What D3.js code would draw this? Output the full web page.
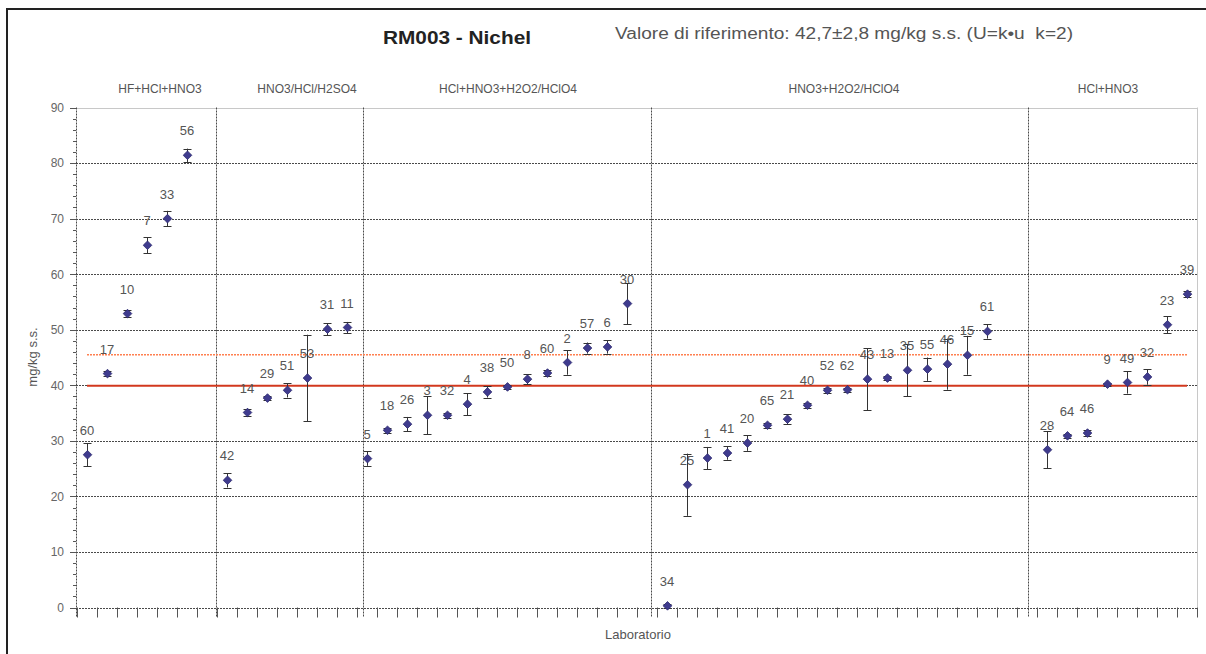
<!DOCTYPE html>
<html lang="it">
<head>
    <meta charset="UTF-8">
    <title>RM003 - Nichel</title>
    <script src="https://d3js.org/d3.v7.min.js"></script>
    <style>
        body {
            margin: 0;
            background: #fff;
            font-family: "Liberation Sans", Arial, sans-serif;
        }
        svg text {
            font-family: "Liberation Sans", Arial, sans-serif;
        }
    </style>
</head>
<body>
    <svg id="chart"></svg>

    <script>
        // laboratory codes, one per category slot ("" = empty slot)
        const labs = [
            "60", "17", "10", "7", "33", "56", "",
            "42", "14", "29", "51", "53", "31", "11",
            "5", "18", "26", "3", "32", "4", "38", "50", "8", "60", "2", "57", "6", "30", "",
            "34", "25", "1", "41", "20", "65", "21", "40", "52", "62", "43", "13", "35", "55", "46", "15", "61", "", "",
            "28", "64", "46", "9", "49", "32", "23", "39"
        ];

        // measured Ni (mg/kg s.s.)
        const values = [
            27.5, 42.1, 52.9, 65.2, 70.0, 81.4, null,
            22.9, 35.1, 37.7, 39.1, 41.3, 50.1, 50.4,
            26.8, 31.9, 33.0, 34.6, 34.6, 36.6, 38.8, 39.7, 41.1, 42.2, 44.1, 46.7, 46.9, 54.7, null,
            0.3, 22.1, 26.9, 27.8, 29.6, 32.8, 33.9, 36.4, 39.1, 39.2, 41.1, 41.3, 42.7, 42.9, 43.8, 45.4, 49.7, null, null,
            28.4, 30.9, 31.4, 40.2, 40.5, 41.5, 50.9, 56.4
        ];

        // expanded uncertainty (±)
        const errors = [
            2.1, 0.4, 0.6, 1.4, 1.4, 1.2, null,
            1.3, 0.7, 0.4, 1.3, 7.8, 1.1, 1.0,
            1.3, 0.5, 1.3, 3.4, 0.4, 2.0, 1.0, 0.4, 0.9, 0.6, 2.2, 1.0, 1.2, 3.7, null,
            0.3, 5.6, 2.0, 1.2, 1.4, 0.4, 0.9, 0.4, 0.4, 0.4, 5.6, 0.4, 4.7, 2.1, 4.6, 3.5, 1.3, null, null,
            3.3, 0.4, 0.5, 0.3, 2.0, 1.4, 1.5, 0.5
        ];

        // digestion methods, where they split on the category axis and where their names sit
        const groupNames = ["HF+HCl+HNO3", "HNO3/HCl/H2SO4", "HCl+HNO3+H2O2/HClO4", "HNO3+H2O2/HClO4", "HCl+HNO3"];
        const groupBreaks = [6.45, 13.8, 28.2, 47.05];
        const groupLabelAt = [3.65, 11, 21.05, 37.85, 51.05];

        // limits of the reference value 42,7 ± 2,8
        const refUpper = 45.5;
        const refLower = 39.9;

        const yTicks = [0, 10, 20, 30, 40, 50, 60, 70, 80, 90];

        const width = 1206, height = 654;
        const plot = { left: 77, right: 1197, top: 107.5, bottom: 607.5 };

        const svg = d3.select("#chart")
                      .attr("width", width)
                      .attr("height", height);

        svg.append("rect")
           .attr("width", width).attr("height", height)
           .attr("fill", "#fff");

        // outer frame
        svg.append("rect")
           .attr("x", 7).attr("y", 9)
           .attr("width", 1300).attr("height", 700)
           .attr("fill", "none")
           .attr("stroke", "#222")
           .attr("stroke-width", 2);

        const x = d3.scaleLinear()
                    .domain([-0.5, labs.length - 0.5])
                    .range([plot.left, plot.right]);

        const y = d3.scaleLinear()
                    .domain([0, 90])
                    .range([plot.bottom, plot.top]);

        const grid = svg.append("g");

        // horizontal grid
        grid.selectAll(".hgrid")
            .data(yTicks)
            .enter()
            .append("line")
            .attr("x1", plot.left - 1)
            .attr("x2", plot.right)
            .attr("y1", d => Math.round(y(d)) + 0.5)
            .attr("y2", d => Math.round(y(d)) + 0.5)
            .attr("stroke", d => d === 90 ? "#c8c8c8" : "#4a4a4a")
            .attr("stroke-dasharray", d => d === 90 ? null : "2,1");

        // right edge
        grid.append("line")
            .attr("x1", plot.right + 0.5).attr("x2", plot.right + 0.5)
            .attr("y1", plot.top).attr("y2", plot.bottom)
            .attr("stroke", "#c8c8c8");

        // left axis line
        grid.append("line")
            .attr("x1", plot.left - 0.5).attr("x2", plot.left - 0.5)
            .attr("y1", plot.top).attr("y2", plot.bottom + 10)
            .attr("stroke", "#4a4a4a")
            .attr("stroke-dasharray", "2,1");

        // group separators
        grid.selectAll(".sep")
            .data(groupBreaks)
            .enter()
            .append("line")
            .attr("x1", d => Math.round(x(d)) + 0.5)
            .attr("x2", d => Math.round(x(d)) + 0.5)
            .attr("y1", plot.top)
            .attr("y2", plot.bottom + 10)
            .attr("stroke", "#4a4a4a")
            .attr("stroke-dasharray", "2,1");

        // category ticks under the axis
        grid.selectAll(".xtick")
            .data(d3.range(labs.length + 1))
            .enter()
            .append("line")
            .attr("x1", d => Math.round(x(d - 0.5)) + 0.5)
            .attr("x2", d => Math.round(x(d - 0.5)) + 0.5)
            .attr("y1", plot.bottom)
            .attr("y2", plot.bottom + 10)
            .attr("stroke", "#555");

        // y minor / major ticks
        grid.selectAll(".ytick")
            .data(d3.range(0, 91, 2))
            .enter()
            .append("line")
            .attr("x1", d => d % 10 === 0 ? plot.left - 7 : plot.left - 4)
            .attr("x2", plot.left - 1)
            .attr("y1", d => Math.round(y(d)) + 0.5)
            .attr("y2", d => Math.round(y(d)) + 0.5)
            .attr("stroke", "#555");

        // y tick labels
        svg.append("g")
           .attr("transform", `translate(${plot.left - 8},0)`)
           .call(d3.axisLeft(y).tickValues(yTicks).tickSize(0).tickPadding(5))
           .call(g => g.select(".domain").remove())
           .selectAll("text")
           .attr("fill", "#666")
           .style("font-size", "12px");

        // reference limits
        const refLine = v => d3.line()
                               .x(i => x(i))
                               .y(() => y(v))(d3.range(labs.length));

        svg.append("path")
           .attr("d", refLine(refUpper))
           .attr("fill", "none")
           .attr("stroke", "#ff8050")
           .attr("stroke-width", 1.5)
           .attr("stroke-dasharray", "2,1");

        svg.append("path")
           .attr("d", refLine(refLower))
           .attr("fill", "none")
           .attr("stroke", "#d2381e")
           .attr("stroke-width", 2);

        const points = d3.range(labs.length)
                         .filter(i => values[i] !== null)
                         .map(i => ({ i: i, lab: labs[i], v: values[i], e: errors[i] }));

        // error bars
        const eb = svg.append("g")
                      .attr("stroke", "#333")
                      .attr("stroke-width", 1);

        points.forEach(d => {
            const cx = Math.round(x(d.i)) + 0.5;
            eb.append("line")
              .attr("x1", cx).attr("x2", cx)
              .attr("y1", y(d.v + d.e)).attr("y2", y(d.v - d.e));
            [d.v + d.e, d.v - d.e].forEach(v => {
                eb.append("line")
                  .attr("x1", cx - 4).attr("x2", cx + 4)
                  .attr("y1", Math.round(y(v)) + 0.5)
                  .attr("y2", Math.round(y(v)) + 0.5);
            });
        });

        // markers
        const diamond = d3.symbol().type(d3.symbolDiamond2 || d3.symbolDiamond).size(48);
        svg.selectAll(".pt")
           .data(points)
           .enter()
           .append("path")
           .attr("d", diamond)
           .attr("transform", d => `translate(${Math.round(x(d.i)) + 0.5},${y(d.v)})`)
           .attr("fill", "#3f3b8e")
           .attr("stroke", "#2c2a6e")
           .attr("stroke-width", 0.8);

        // lab codes
        svg.selectAll(".lab")
           .data(points)
           .enter()
           .append("text")
           .attr("x", d => x(d.i))
           .attr("y", d => y(d.v) - 20)
           .attr("text-anchor", "middle")
           .attr("fill", "#555")
           .style("font-size", "13px")
           .text(d => d.lab);

        // method names above the plot
        svg.selectAll(".grp")
           .data(groupNames)
           .enter()
           .append("text")
           .attr("x", (d, k) => x(groupLabelAt[k]))
           .attr("y", 93)
           .attr("text-anchor", "middle")
           .attr("fill", "#555")
           .style("font-size", "12px")
           .text(d => d);

        // titles
        svg.append("text")
           .attr("x", 383)
           .attr("y", 44)
           .attr("textLength", 148)
           .attr("lengthAdjust", "spacingAndGlyphs")
           .attr("fill", "#222")
           .style("font-size", "18px")
           .style("font-weight", "bold")
           .text("RM003 - Nichel");

        svg.append("text")
           .attr("x", 615)
           .attr("y", 39)
           .attr("textLength", 458)
           .attr("lengthAdjust", "spacingAndGlyphs")
           .attr("fill", "#555")
           .style("font-size", "16px")
           .text("Valore di riferimento: 42,7±2,8 mg/kg s.s. (U=k•u\u00a0 k=2)");

        svg.append("text")
           .attr("transform", "translate(37,357) rotate(-90)")
           .attr("text-anchor", "middle")
           .attr("fill", "#555")
           .style("font-size", "13px")
           .text("mg/kg s.s.");

        svg.append("text")
           .attr("x", 638)
           .attr("y", 639)
           .attr("text-anchor", "middle")
           .attr("fill", "#555")
           .style("font-size", "13px")
           .text("Laboratorio");
    </script>
</body>
</html>
